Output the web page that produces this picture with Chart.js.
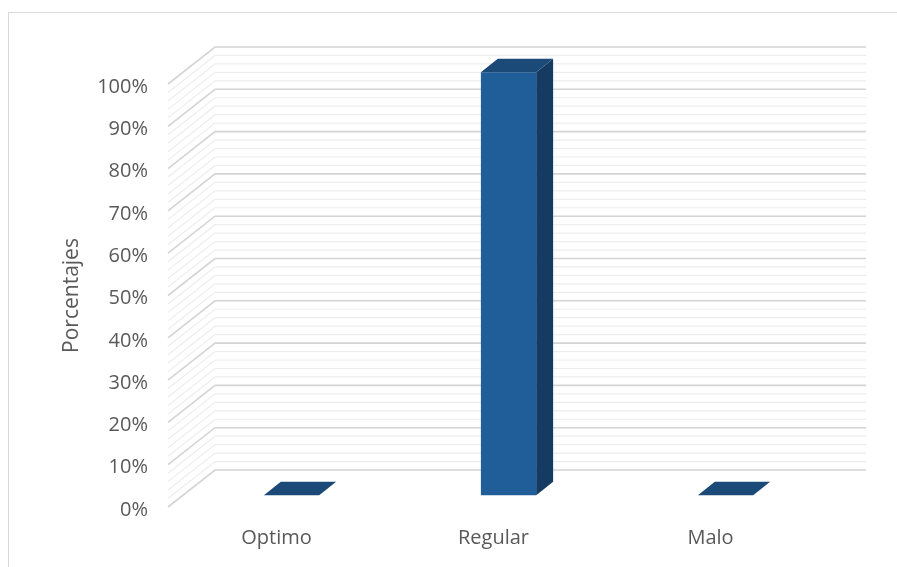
<!DOCTYPE html>
<html>
<head>
<meta charset="utf-8">
<script src="https://cdn.jsdelivr.net/npm/chart.js@4"></script>
<style>
  html, body { margin: 0; padding: 0; background: #fff; }
  #wrap { width: 897px; height: 567px; }
</style>
</head>
<body>
<div id="wrap"><canvas id="myChart" width="897" height="567"></canvas></div>
<script>
const categories = ['Optimo', 'Regular', 'Malo'];
const percentages = [0, 100, 0];
const yTickValues = [0, 10, 20, 30, 40, 50, 60, 70, 80, 90, 100];
const minorStep = 2;

// 3d box: offset from the front plane to the back wall
const depth = { x: 47, y: -37 };
const barFront = 0.32, barBack = 0.68;

const frontColor = '#1f5e99';
const topColor = '#1b4a78';
const sideColor = '#163b62';
const textColor = '#595959';

const wall3d = {
    id: 'wall3d',
    beforeDraw(chart) {
        const ctx = chart.ctx;
        ctx.save();
        ctx.strokeStyle = '#d9d9d9';
        ctx.lineWidth = 1;
        ctx.strokeRect(8.5, 12.5, 1000, 1000);
        ctx.restore();
    },
    beforeDatasetsDraw(chart) {
        const { ctx, chartArea: a, scales: { y } } = chart;
        const vals = [];
        for (let v = y.min; v <= y.max; v += minorStep) vals.push(v);
        ctx.save();
        // minor lines first, major ones on top
        [false, true].forEach(major => {
            vals.forEach(v => {
                if (yTickValues.includes(v) !== major) return;
                const py = y.getPixelForValue(v);
                ctx.beginPath();
                ctx.moveTo(a.left, py);
                ctx.lineTo(a.left + depth.x, py + depth.y);
                ctx.lineTo(a.right + depth.x, py + depth.y);
                ctx.strokeStyle = major ? '#d4d4d4' : '#ededed';
                ctx.lineWidth = major ? 1.6 : 1.2;
                ctx.stroke();
            });
        });
        ctx.restore();
        // push the bars back to their depth slot
        ctx.save();
        ctx.translate(depth.x * barFront, depth.y * barFront);
    },
    afterDatasetsDraw(chart) {
        const ctx = chart.ctx;
        const dx = depth.x * (barBack - barFront);
        const dy = depth.y * (barBack - barFront);
        chart.getDatasetMeta(0).data.forEach(bar => {
            const { x, y, base, width } = bar.getProps(['x', 'y', 'base', 'width'], true);
            const l = x - width / 2, r = x + width / 2;
            // side face
            ctx.fillStyle = sideColor;
            ctx.beginPath();
            ctx.moveTo(r, y);
            ctx.lineTo(r + dx, y + dy);
            ctx.lineTo(r + dx, base + dy);
            ctx.lineTo(r, base);
            ctx.closePath();
            ctx.fill();
            // top face
            ctx.fillStyle = topColor;
            ctx.beginPath();
            ctx.moveTo(l, y);
            ctx.lineTo(r, y);
            ctx.lineTo(r + dx, y + dy);
            ctx.lineTo(l + dx, y + dy);
            ctx.closePath();
            ctx.fill();
        });
        ctx.restore();
    }
};

const ctx = document.getElementById('myChart').getContext('2d');

const myChart = new Chart(ctx, {
    type: 'bar',
    data: {
        labels: categories,
        datasets: [{
            label: 'Porcentajes',
            data: percentages,
            backgroundColor: frontColor,
            borderWidth: 0,
            categoryPercentage: 1,
            barPercentage: 0.255,
            clip: false
        }]
    },
    options: {
        responsive: false,
        animation: false,
        layout: {
            padding: { left: 0, top: 84, right: 78, bottom: 0 }
        },
        scales: {
            x: {
                grid: { display: false, drawTicks: false },
                border: { display: false },
                ticks: {
                    color: textColor,
                    padding: 19,
                    font: { family: 'Open Sans', size: 20 }
                },
                afterFit: scale => { scale.height = 60; }
            },
            y: {
                min: 0,
                max: 100,
                grid: { display: false, drawTicks: false },
                border: { display: false },
                afterBuildTicks: scale => {
                    scale.ticks = yTickValues.map(v => ({ value: v }));
                },
                ticks: {
                    color: textColor,
                    padding: 20,
                    labelOffset: 3,
                    font: { family: 'Open Sans', size: 20 },
                    callback: value => value + '%'
                },
                title: {
                    display: true,
                    text: 'Porcentajes',
                    color: textColor,
                    font: { family: 'Open Sans', size: 21 },
                    padding: { top: 59, bottom: 0 }
                },
                afterFit: scale => { scale.width = 168; }
            }
        },
        plugins: {
            legend: { display: false },
            tooltip: { enabled: false }
        }
    },
    plugins: [wall3d]
});
</script>
</body>
</html>
